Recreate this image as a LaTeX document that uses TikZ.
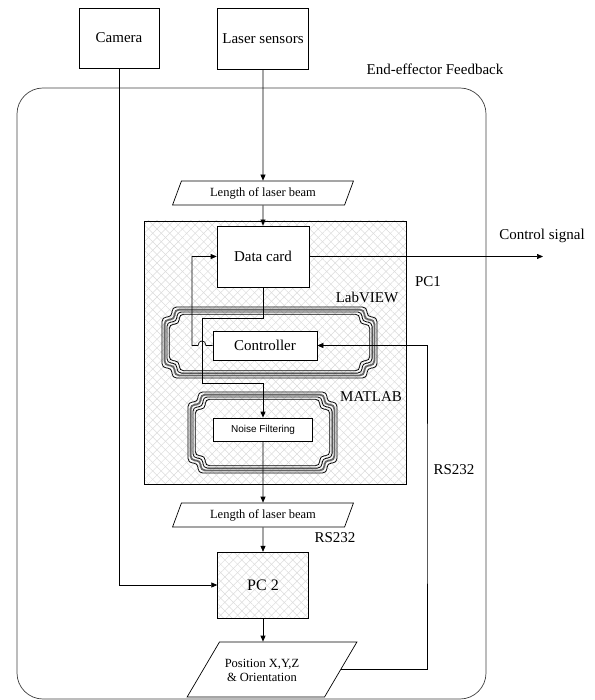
\documentclass[tikz,border=0pt]{standalone}
\usepackage{fontspec}
\setmainfont{Liberation Serif}
\newfontfamily\nfsans{Liberation Sans}
\usetikzlibrary{arrows.meta,patterns.meta,shapes.geometric,calc}
\newcommand\myframeline[6]{%
\draw[#6, rounded corners=4.5pt] ({#1+10+#5},{#2+#5}) -- ({#3-10-#5},{#2+#5}) -- ({#3-10-#5},{#2+10+#5}) -- ({#3-#5},{#2+10+#5}) -- ({#3-#5},{#4-10-#5}) -- ({#3-10-#5},{#4-10-#5}) -- ({#3-10-#5},{#4-#5}) -- ({#1+10+#5},{#4-#5}) -- ({#1+10+#5},{#4-10-#5}) -- ({#1+#5},{#4-10-#5}) -- ({#1+#5},{#2+10+#5}) -- ({#1+10+#5},{#2+10+#5}) -- cycle;}
\newcommand\myframe[4]{%
\myframeline{#1}{#2}{#3}{#4}{0}{line width=0.8pt}%
\myframeline{#1}{#2}{#3}{#4}{2.6}{line width=1.8pt,black!60}%
\myframeline{#1}{#2}{#3}{#4}{4.9}{line width=0.8pt}%
\myframeline{#1}{#2}{#3}{#4}{7.2}{line width=0.8pt}}
\begin{document}
\begin{tikzpicture}[x=1pt,y=-1pt,
  lw/.style={line width=0.7pt},
  blk/.style={draw, lw, fill=white, font=\fontsize{15}{17}\selectfont, inner sep=0pt},
  arr/.style={lw, -{Triangle[length=6pt,width=5pt]}},
  lbl/.style={font=\fontsize{15}{17}\selectfont, inner sep=0pt},
  para/.style={trapezium, draw, lw, fill=white, trapezium stretches=true, inner sep=0pt, font=\fontsize{12.5}{14}\selectfont},
  hatch/.style={pattern color=gray!28, pattern={Lines[angle=45,distance=6pt,line width=0.5pt]},
     postaction={pattern color=gray!28, pattern={Lines[angle=-45,distance=6pt,line width=0.5pt]}},
     postaction={draw, line width=0.7pt}}
]
\useasboundingbox (0,0) rectangle (594,700);

% outer feedback region
\node[draw=black!75, lw, rounded corners=26pt, minimum width=469pt, minimum height=611pt, inner sep=0pt] (outer) at (251.5,393.5) {};

% PC1 hatched region
\node[hatch, minimum width=262pt, minimum height=263pt, inner sep=0pt] (pc1) at (275,352.5) {};

% LabVIEW and MATLAB frames
\myframe{162}{307}{377}{378}
\myframe{188}{392}{337}{473}

% blocks
\node[blk, minimum width=80pt, minimum height=60pt] (cam) at (119,38) {Camera};
\node[blk, minimum width=91pt, minimum height=61pt] (las) at (263,38.5) {Laser sensors};
\node[para, trapezium left angle=63.4, trapezium right angle=116.6, minimum width=181pt, minimum height=24pt] (len1) at (263,193) {Length of laser beam};
\node[blk, minimum width=92pt, minimum height=61pt] (dc) at (263,256.5) {Data card};
\node[blk, minimum width=104pt, minimum height=29pt] (ctrl) at (265,345.5) {Controller};
\node[blk, font=\nfsans\fontsize{10}{12}\selectfont, minimum width=99pt, minimum height=23pt] (nf) at (263,429.5) {Noise Filtering};
\node[para, trapezium left angle=63.4, trapezium right angle=116.6, minimum width=181pt, minimum height=24pt] (len2) at (263,515) {Length of laser beam};
\node[hatch, inner sep=0pt, font=\fontsize{16}{18}\selectfont, minimum width=91pt, minimum height=66pt] (pc2) at (263,585) {PC 2};
\node[para, trapezium left angle=67.3, trapezium right angle=112.7, minimum width=170pt, minimum height=55pt] (pos) at (272,669.5) {\phantom{M}};
\node[font=\fontsize{12.5}{14}\selectfont, align=center, inner sep=0pt] (postxt) at (262,670) {Position X,Y,Z\\\& Orientation};

% labels
\node[lbl] (eef) at (435,69) {End-effector Feedback};
\node[lbl] (pc1l) at (428,282) {PC1};
\node[lbl] (lv) at (367,297) {LabVIEW};
\node[lbl] (ml) at (371,397) {MATLAB};
\node[lbl] (rs1) at (454,470) {RS232};
\node[lbl] (rs2) at (335,538) {RS232};
\node[lbl] (cs) at (542,236) {Control signal};

% coordinates
\coordinate (csend) at (543,256.5);
\coordinate (j1) at (202,318);
\coordinate (j2) at (202,383);
\coordinate (f1) at (192,345.5);
\coordinate (rsx) at (427,500);

% connectors
\draw[arr] (las.south) -- (len1.north);
\draw[arr] (len1.south) -- (dc.north);
\draw[arr] (dc.east) -- (csend);
\draw[arr] (dc.south) |- (j1) -- (j2) -| (nf.north);
\draw[arr] (ctrl.west) -- (206,345.5) .. controls (206,339.5) and (198,339.5) .. (198,345.5) -- (f1) |- (dc.west);
\draw[arr] (nf.south) -- (len2.north);
\draw[arr] (len2.south) -- (pc2.north);
\draw[arr] (cam.south) |- (pc2.west);
\draw[arr] (pc2.south) -- (pc2.south |- pos.north);
\draw[arr] (pos.east) -| (rsx) |- (ctrl.east);
\end{tikzpicture}
\end{document}
